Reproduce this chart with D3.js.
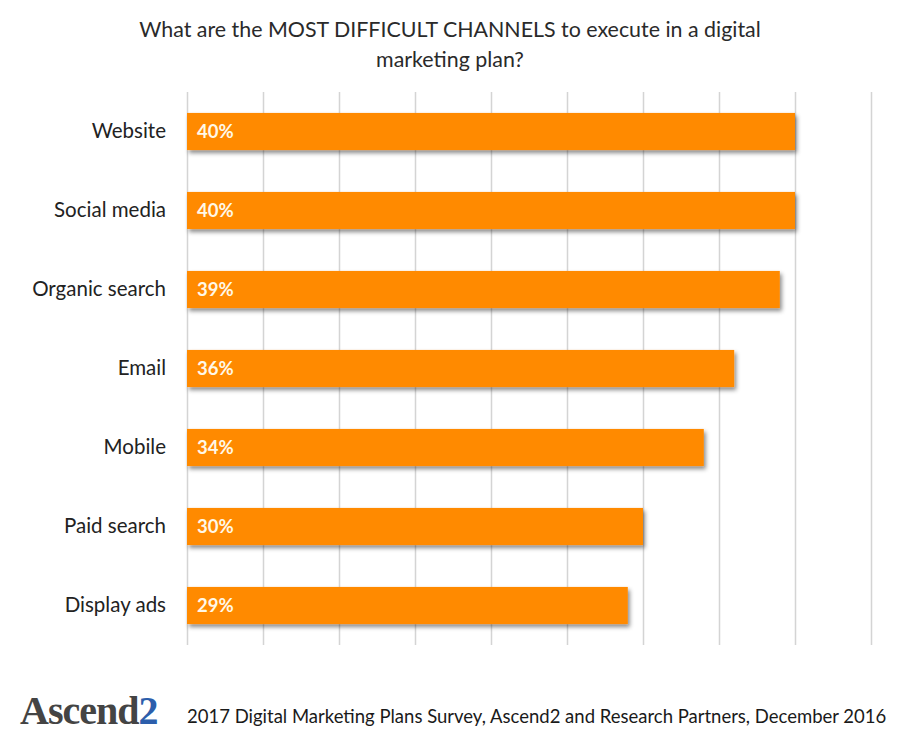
<!DOCTYPE html>
<html>
<head>
<meta charset="utf-8">
<script src="https://cdn.jsdelivr.net/npm/d3@7"></script>
<style>
  body { margin: 0; background: #fff; }
  svg { display: block; }
</style>
</head>
<body>
<svg id="chart" width="900" height="736"></svg>
<script>
const channels = ['Website', 'Social media', 'Organic search', 'Email', 'Mobile', 'Paid search', 'Display ads'];
const shares = [40, 40, 39, 36, 34, 30, 29];
const gridTicks = [0, 5, 10, 15, 20, 25, 30, 35, 40, 45];
const titleLines = ['What are the MOST DIFFICULT CHANNELS to execute in a digital', 'marketing plan?'];
const sourceText = '2017 Digital Marketing Plans Survey, Ascend2 and Research Partners, December 2016';

const plotLeft = 187;
const plotRight = 871;
const plotTop = 92;
const plotBottom = 645;
const font = 'Lato, "Open Sans", sans-serif';

const data = channels.map((c, i) => ({ channel: c, value: shares[i] }));

const svg = d3.select('#chart');

// soft shadow under the bars
const defs = svg.append('defs');
defs.append('filter')
  .attr('id', 'shadow')
  .attr('x', '-5%').attr('y', '-20%')
  .attr('width', '110%').attr('height', '160%')
  .append('feDropShadow')
  .attr('dx', 2).attr('dy', 3)
  .attr('stdDeviation', 2)
  .attr('flood-color', '#000')
  .attr('flood-opacity', 0.45);

const xscale = d3.scaleLinear()
  .domain([0, 45])
  .range([plotLeft, plotRight]);

const yscale = d3.scaleBand()
  .domain(channels)
  .range([plotTop, plotBottom])
  .paddingInner(0.53)
  .paddingOuter(0.265);

// vertical gridlines
const grid = d3.axisBottom(xscale)
  .tickValues(gridTicks)
  .tickSize(-(plotBottom - plotTop))
  .tickFormat('');

svg.append('g')
  .attr('transform', `translate(0, ${plotBottom})`)
  .call(grid)
  .call(g => g.select('.domain').remove())
  .call(g => g.selectAll('.tick line').attr('stroke', '#d4d4d4').attr('stroke-width', 1.5));

// category labels
const leftAxis = d3.axisLeft(yscale).tickSize(0).tickPadding(21);

svg.append('g')
  .attr('transform', `translate(${plotLeft}, 0)`)
  .call(leftAxis)
  .call(g => g.select('.domain').remove())
  .call(g => g.selectAll('text')
    .attr('font-family', font)
    .attr('font-size', 20.5)
    .attr('fill', '#222'));

// bars
svg.append('g')
  .selectAll('rect')
  .data(data)
  .enter()
  .append('rect')
  .attr('x', xscale(0))
  .attr('y', d => yscale(d.channel))
  .attr('width', d => xscale(d.value) - xscale(0))
  .attr('height', yscale.bandwidth())
  .attr('fill', '#ff8a00')
  .attr('filter', 'url(#shadow)');

// value labels
svg.append('g')
  .selectAll('text')
  .data(data)
  .enter()
  .append('text')
  .attr('x', xscale(0) + 10)
  .attr('y', d => yscale(d.channel) + yscale.bandwidth() / 2)
  .attr('dy', '0.36em')
  .attr('font-family', font)
  .attr('font-size', 18.5)
  .attr('font-weight', 'bold')
  .attr('fill', '#fff8e8')
  .text(d => d.value + '%');

// title
svg.append('g')
  .selectAll('text')
  .data(titleLines)
  .enter()
  .append('text')
  .attr('x', 450)
  .attr('y', (d, i) => 37 + i * 30)
  .attr('text-anchor', 'middle')
  .attr('font-family', font)
  .attr('font-size', 21.4)
  .attr('fill', '#2a2a2a')
  .text(d => d);

// footer: logo and source
const logo = svg.append('text')
  .attr('x', 20)
  .attr('y', 724)
  .attr('font-family', '"Liberation Serif", serif')
  .attr('font-size', 40)
  .attr('font-weight', 'bold')
  .attr('letter-spacing', -1)
  .attr('fill', '#444');
logo.append('tspan').text('Ascend');
logo.append('tspan').attr('fill', '#2c5eab').text('2');

svg.append('text')
  .attr('x', 187)
  .attr('y', 723)
  .attr('font-family', font)
  .attr('font-size', 18.5)
  .attr('fill', '#1a1a1a')
  .text(sourceText);
</script>
</body>
</html>
